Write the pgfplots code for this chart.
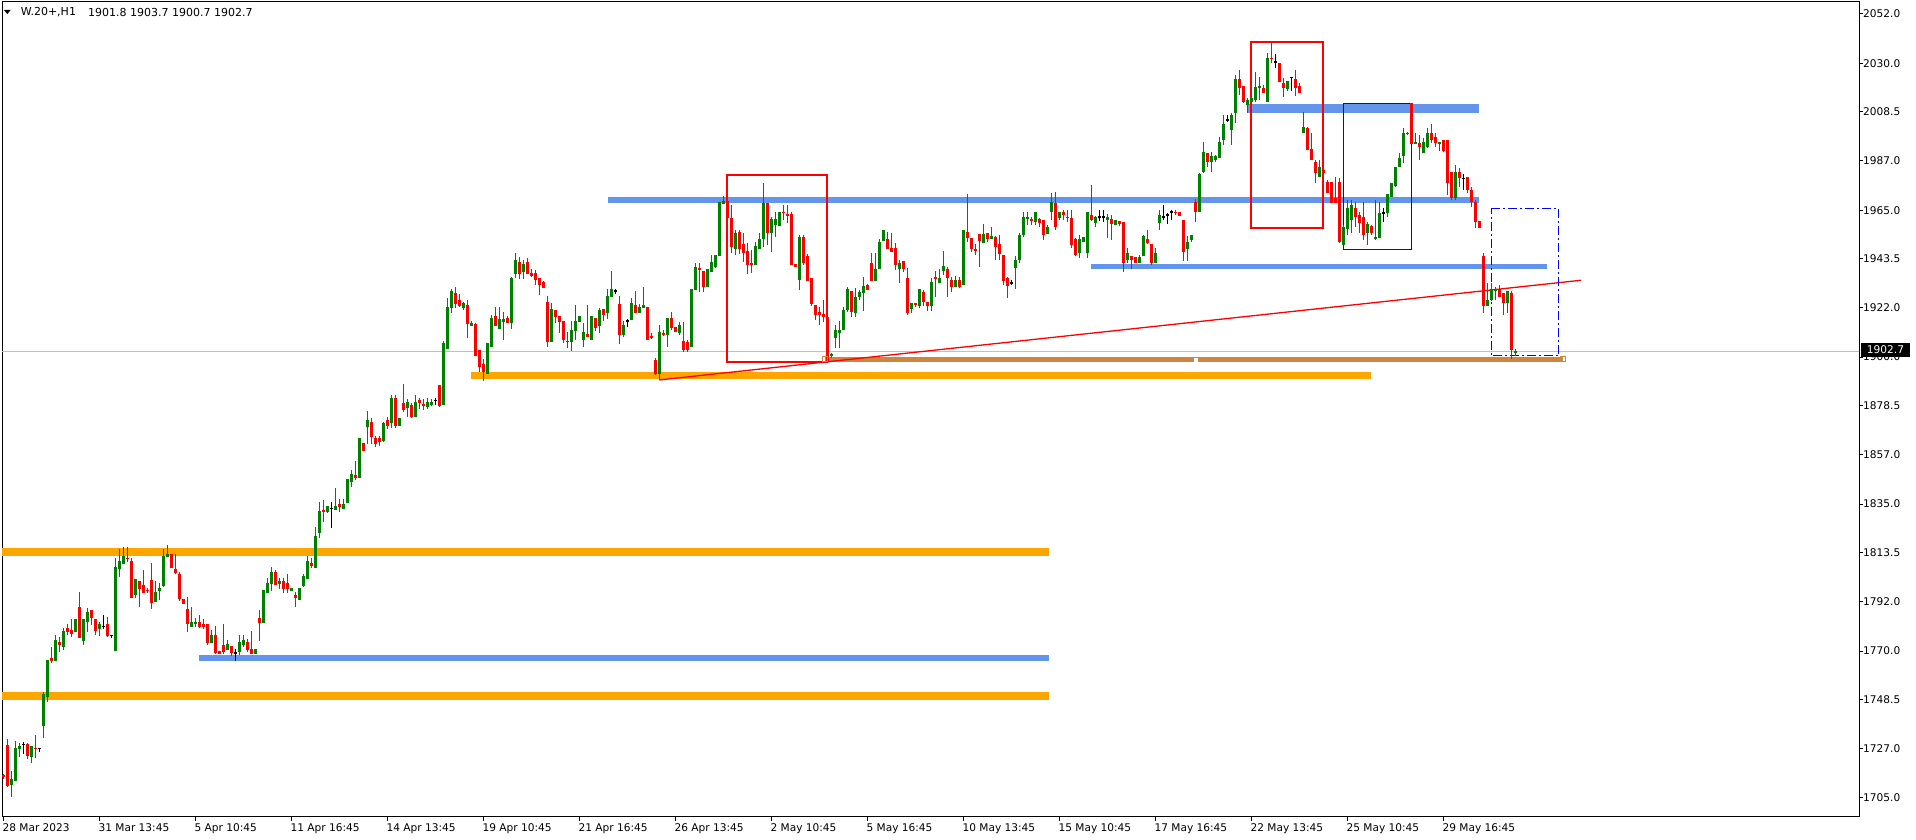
\documentclass[border=0pt]{standalone}
\usepackage{fontspec}
\setmainfont{DejaVu Sans}
\usepackage{pgfplots}
\usepackage{pgfplotstable}
\pgfplotsset{compat=1.18}

\definecolor{bull}{RGB}{0,128,0}
\definecolor{bear}{RGB}{255,0,0}
\definecolor{lvlorange}{RGB}{255,165,0}
\definecolor{lvlblue}{RGB}{100,149,237}
\definecolor{lvlbrown}{RGB}{205,133,63}
\definecolor{pricegrey}{RGB}{192,192,192}

% hourly bars: index o h l c
\pgfplotstableread{
i o h l c
0 1715.1 1715.8 1713.6 1714.4
1 1728.4 1730.9 1709.7 1710.4
2 1710.7 1716.9 1705.5 1713.6
3 1712.6 1730.2 1712.6 1727.2
4 1726.8 1729.4 1722.9 1727.9
5 1728.8 1729.9 1724.4 1728.8
6 1728.8 1729.4 1722.3 1723.7
7 1722.9 1727.9 1720.6 1727.9
8 1727.2 1732.7 1722.6 1726.9
9 1726.9 1726.9 1725.4 1726.9
10 1736.8 1752.0 1731.6 1750.9
11 1749.8 1766.0 1747.6 1766.0
12 1767.0 1771.9 1764.8 1765.5
13 1765.7 1777.0 1765.7 1774.8
14 1774.1 1776.3 1769.7 1772.6
15 1771.9 1780.0 1770.4 1778.8
16 1780.0 1781.9 1776.9 1778.5
17 1779.3 1784.1 1776.0 1777.5
18 1778.5 1784.1 1778.5 1784.1
19 1789.4 1796.1 1775.9 1775.9
20 1774.5 1784.1 1772.6 1784.1
21 1782.9 1789.0 1778.5 1787.2
22 1788.1 1788.1 1781.5 1784.7
23 1784.1 1784.1 1777.3 1779.0
24 1779.7 1782.9 1776.8 1782.1
25 1780.9 1785.9 1779.7 1780.9
26 1782.1 1785.2 1776.0 1776.8
27 1776.9 1776.9 1775.9 1776.9
28 1770.1 1811.0 1770.1 1807.1
29 1806.1 1815.1 1802.9 1809.8
30 1808.6 1815.8 1808.6 1812.0
31 1811.2 1815.8 1809.5 1810.7
32 1809.8 1811.0 1793.6 1793.6
33 1794.7 1801.8 1793.6 1801.8
34 1800.9 1800.9 1789.6 1797.5
35 1799.2 1805.8 1795.8 1795.8
36 1797.1 1798.1 1795.8 1796.8
37 1801.4 1808.9 1788.7 1791.1
38 1791.8 1800.9 1791.8 1796.1
39 1796.7 1800.1 1792.7 1798.0
40 1798.9 1815.1 1798.4 1812.0
41 1811.7 1816.9 1811.4 1812.9
42 1812.9 1812.9 1806.8 1806.8
43 1806.2 1812.9 1804.0 1804.6
44 1804.0 1805.1 1792.2 1792.8
45 1792.8 1792.8 1790.6 1790.6
46 1788.5 1794.0 1778.5 1781.8
47 1780.7 1789.6 1780.7 1782.9
48 1781.8 1784.4 1780.7 1782.8
49 1782.9 1785.9 1780.0 1780.7
50 1781.9 1784.1 1779.7 1780.7
51 1781.9 1781.9 1772.6 1773.7
52 1773.7 1779.3 1773.7 1777.0
53 1777.0 1781.2 1768.9 1768.9
54 1770.0 1770.0 1768.9 1768.9
55 1772.6 1781.9 1768.9 1769.7
56 1770.4 1774.8 1770.4 1773.1
57 1772.0 1772.0 1767.8 1768.9
58 1769.2 1770.9 1765.7 1769.2
59 1769.7 1777.0 1768.2 1774.0
60 1772.6 1777.0 1771.9 1774.8
61 1774.0 1775.3 1769.7 1770.4
62 1770.7 1778.8 1768.9 1768.9
63 1768.8 1770.9 1768.8 1770.9
64 1784.6 1788.1 1774.5 1782.5
65 1782.6 1797.0 1782.2 1797.0
66 1795.8 1802.1 1795.5 1799.9
67 1799.8 1807.0 1796.7 1804.9
68 1804.9 1805.8 1799.0 1799.0
69 1799.8 1802.1 1797.4 1800.9
70 1800.9 1802.1 1795.8 1797.4
71 1799.9 1804.0 1795.8 1797.4
72 1796.7 1797.8 1796.7 1797.8
73 1794.7 1796.1 1789.6 1793.6
74 1792.7 1798.0 1792.7 1798.0
75 1798.9 1804.0 1798.4 1803.1
76 1801.8 1812.0 1801.8 1809.9
77 1808.9 1811.0 1806.5 1807.6
78 1806.8 1824.8 1806.8 1820.8
79 1822.0 1835.9 1819.8 1831.9
80 1832.2 1836.8 1827.2 1831.6
81 1831.6 1834.1 1830.9 1834.1
82 1833.1 1836.0 1824.5 1833.1
83 1832.6 1842.2 1832.6 1834.1
84 1835.0 1837.1 1831.6 1833.5
85 1832.8 1837.1 1832.8 1835.0
86 1835.6 1846.2 1835.6 1846.2
87 1844.7 1850.0 1842.7 1848.3
88 1847.8 1854.2 1845.6 1846.4
89 1846.6 1864.1 1846.6 1864.1
90 1861.8 1861.8 1858.6 1858.6
91 1869.2 1876.1 1861.8 1872.2
92 1871.3 1872.9 1861.8 1864.8
93 1864.2 1865.2 1860.1 1861.8
94 1864.2 1865.2 1860.8 1862.4
95 1863.0 1871.4 1862.6 1871.0
96 1872.2 1873.6 1868.0 1869.7
97 1870.7 1883.2 1868.8 1882.0
98 1882.0 1883.2 1868.8 1869.5
99 1869.7 1872.9 1869.7 1872.9
100 1879.7 1888.1 1875.9 1876.6
101 1877.6 1881.3 1873.6 1880.1
102 1878.9 1879.5 1872.9 1873.6
103 1873.6 1883.2 1873.6 1880.1
104 1881.0 1881.7 1877.0 1879.8
105 1879.2 1881.7 1876.6 1878.4
106 1877.8 1882.0 1876.9 1880.1
107 1878.8 1881.7 1878.4 1880.3
108 1881.0 1882.0 1878.8 1881.0
109 1887.6 1887.6 1878.1 1878.5
110 1878.9 1907.1 1878.9 1906.1
111 1903.7 1926.0 1903.7 1922.0
112 1921.9 1930.1 1919.6 1929.2
113 1928.3 1930.9 1921.6 1923.5
114 1925.2 1927.9 1922.3 1922.6
115 1921.9 1924.5 1920.8 1923.8
116 1923.0 1925.2 1908.6 1914.8
117 1913.8 1916.0 1913.8 1914.9
118 1914.5 1914.9 1900.6 1900.6
119 1903.1 1903.1 1893.6 1895.8
120 1896.9 1899.4 1889.6 1893.6
121 1892.5 1906.1 1892.5 1906.1
122 1904.6 1918.5 1904.6 1917.3
123 1918.2 1922.0 1913.9 1913.9
124 1912.4 1922.0 1912.4 1916.9
125 1915.5 1920.1 1907.6 1916.9
126 1917.3 1918.2 1914.9 1914.9
127 1915.2 1935.6 1912.4 1935.1
128 1936.6 1945.9 1935.1 1942.9
129 1941.9 1944.1 1934.5 1936.8
130 1937.8 1942.9 1934.5 1941.3
131 1942.1 1944.0 1936.9 1936.9
132 1937.3 1939.0 1935.6 1935.9
133 1937.3 1938.5 1931.9 1934.1
134 1935.1 1935.1 1927.5 1931.9
135 1933.4 1933.8 1930.7 1930.7
136 1924.5 1927.0 1904.6 1906.8
137 1906.8 1924.1 1906.8 1921.3
138 1920.8 1920.8 1914.9 1917.9
139 1918.2 1918.2 1910.8 1915.5
140 1916.1 1916.1 1906.1 1907.6
141 1907.3 1911.2 1903.9 1906.9
142 1906.8 1916.0 1902.8 1912.0
143 1911.5 1923.0 1907.6 1916.0
144 1915.7 1918.2 1915.7 1918.2
145 1907.6 1914.9 1904.6 1911.1
146 1910.2 1923.0 1908.7 1908.7
147 1907.6 1918.2 1907.6 1918.2
148 1917.3 1917.3 1911.7 1913.0
149 1913.9 1921.6 1910.8 1920.8
150 1921.3 1921.3 1916.1 1918.6
151 1919.6 1930.0 1916.7 1927.0
152 1926.7 1938.2 1926.7 1930.1
153 1929.4 1930.1 1927.9 1929.4
154 1923.5 1927.0 1905.8 1909.8
155 1909.8 1916.1 1909.0 1914.2
156 1916.1 1916.7 1913.2 1916.1
157 1916.4 1926.0 1916.4 1923.8
158 1923.0 1929.2 1919.6 1919.6
159 1919.6 1923.3 1919.6 1922.3
160 1921.9 1930.9 1921.9 1923.0
161 1922.1 1922.1 1907.6 1907.6
162 1909.3 1910.5 1907.8 1908.3
163 1898.7 1899.5 1892.0 1892.5
164 1892.5 1914.2 1889.9 1911.2
165 1910.8 1912.0 1909.3 1909.8
166 1909.8 1917.1 1904.6 1917.1
167 1917.1 1919.8 1912.0 1912.7
168 1913.5 1913.5 1911.2 1911.2
169 1910.8 1915.7 1909.8 1914.2
170 1907.0 1915.7 1902.4 1903.1
171 1906.8 1907.6 1902.4 1903.1
172 1904.6 1930.1 1904.6 1930.1
173 1929.7 1941.5 1929.7 1940.0
174 1939.3 1941.5 1928.9 1938.8
175 1938.2 1938.2 1928.9 1931.1
176 1930.9 1938.8 1930.9 1938.8
177 1937.8 1945.2 1937.8 1942.2
178 1939.7 1945.2 1939.3 1945.2
179 1944.7 1968.8 1944.7 1968.8
180 1967.7 1971.3 1967.7 1969.2
181 1969.2 1969.5 1961.0 1961.4
182 1961.4 1967.3 1945.9 1948.8
183 1947.8 1956.2 1945.2 1954.7
184 1955.5 1956.2 1945.6 1947.8
185 1950.0 1954.7 1942.2 1945.9
186 1946.9 1950.3 1936.7 1940.7
187 1941.5 1947.4 1937.0 1941.0
188 1940.7 1951.0 1940.7 1949.1
189 1947.8 1954.7 1947.8 1952.1
190 1952.1 1977.2 1948.8 1968.0
191 1968.0 1968.0 1949.6 1954.7
192 1954.7 1962.1 1946.6 1961.1
193 1958.4 1964.3 1953.3 1961.1
194 1958.0 1964.0 1958.0 1964.0
195 1964.3 1967.3 1960.6 1963.7
196 1963.4 1967.3 1959.2 1962.8
197 1963.3 1964.3 1940.7 1940.7
198 1941.2 1941.2 1939.7 1939.7
199 1934.1 1954.0 1929.7 1953.3
200 1953.3 1954.0 1940.7 1941.8
201 1944.7 1945.6 1933.8 1933.8
202 1935.1 1935.1 1922.6 1923.3
203 1923.0 1923.0 1916.4 1918.6
204 1920.1 1922.3 1914.2 1918.6
205 1919.2 1925.3 1915.7 1917.9
206 1917.9 1917.9 1897.2 1898.0
207 1900.5 1902.0 1899.5 1901.6
208 1908.6 1914.2 1903.9 1912.0
209 1910.8 1916.0 1903.9 1912.0
210 1912.0 1922.3 1912.0 1920.8
211 1920.8 1931.1 1920.1 1930.1
212 1929.4 1929.4 1917.9 1920.1
213 1919.6 1930.4 1917.9 1926.4
214 1926.7 1929.7 1925.3 1928.9
215 1928.2 1935.6 1920.5 1931.4
216 1931.9 1932.5 1929.7 1929.7
217 1941.8 1945.9 1933.8 1933.8
218 1933.8 1945.9 1933.8 1939.0
219 1939.0 1952.1 1939.0 1950.8
220 1951.5 1956.2 1951.5 1956.2
221 1952.2 1955.5 1947.7 1947.7
222 1948.5 1954.7 1946.6 1946.6
223 1948.1 1950.3 1938.5 1940.7
224 1938.8 1942.9 1932.9 1941.5
225 1942.5 1942.5 1937.8 1938.8
226 1935.1 1939.3 1918.6 1919.6
227 1921.1 1924.1 1919.4 1924.1
228 1923.8 1923.8 1922.3 1923.0
229 1922.6 1930.0 1921.6 1930.0
230 1928.9 1929.7 1922.6 1924.5
231 1924.5 1924.5 1920.5 1922.6
232 1922.6 1934.8 1920.5 1933.4
233 1935.3 1938.2 1926.7 1934.4
234 1932.9 1938.8 1932.9 1935.1
235 1938.2 1947.1 1936.3 1940.3
236 1939.1 1940.0 1926.7 1934.8
237 1934.1 1935.6 1928.9 1930.9
238 1930.9 1935.9 1930.9 1934.1
239 1934.1 1935.6 1930.4 1931.1
240 1931.9 1956.2 1931.9 1956.2
241 1955.5 1972.1 1951.0 1952.5
242 1952.5 1952.5 1946.6 1947.8
243 1947.6 1949.9 1945.2 1947.2
244 1954.4 1954.4 1939.7 1951.5
245 1950.3 1958.9 1950.3 1954.4
246 1954.7 1954.7 1951.0 1952.1
247 1952.1 1957.7 1952.1 1953.6
248 1953.0 1953.6 1942.9 1948.8
249 1949.9 1954.0 1942.9 1945.6
250 1945.2 1945.2 1931.9 1933.8
251 1934.8 1935.6 1926.0 1931.4
252 1932.9 1934.1 1931.9 1932.9
253 1939.3 1944.7 1930.0 1942.9
254 1942.9 1954.7 1941.8 1954.0
255 1954.0 1964.0 1953.3 1962.1
256 1960.9 1964.3 1958.4 1962.1
257 1961.1 1962.1 1958.4 1960.2
258 1959.9 1964.3 1958.4 1964.3
259 1960.9 1961.4 1957.7 1959.5
260 1960.6 1960.6 1951.8 1954.0
261 1954.4 1958.4 1954.4 1957.4
262 1964.3 1972.4 1960.6 1968.8
263 1968.3 1973.2 1956.2 1957.4
264 1961.4 1964.3 1960.6 1964.3
265 1964.3 1965.1 1960.6 1962.9
266 1962.0 1965.1 1959.9 1961.6
267 1961.4 1965.1 1948.5 1949.6
268 1952.1 1952.5 1944.7 1945.2
269 1945.9 1954.0 1943.7 1952.1
270 1951.0 1953.3 1951.0 1953.3
271 1945.9 1964.3 1943.7 1964.3
272 1962.9 1976.1 1960.4 1960.6
273 1959.5 1962.4 1957.4 1962.1
274 1962.1 1965.1 1960.4 1962.1
275 1962.1 1965.1 1959.9 1962.1
276 1960.6 1963.1 1952.5 1962.1
277 1961.1 1962.9 1951.8 1958.7
278 1958.4 1960.6 1958.4 1960.6
279 1960.2 1960.2 1958.0 1958.9
280 1959.9 1959.9 1937.8 1941.5
281 1942.9 1948.1 1941.5 1945.9
282 1944.7 1944.7 1938.8 1942.9
283 1944.1 1944.1 1941.8 1941.8
284 1941.8 1945.2 1941.5 1944.4
285 1944.7 1954.0 1944.7 1953.6
286 1952.1 1956.2 1950.0 1950.6
287 1950.0 1950.0 1940.7 1941.5
288 1941.8 1948.1 1941.8 1946.2
289 1959.5 1965.1 1956.2 1962.9
290 1962.1 1967.3 1960.6 1962.1
291 1962.9 1963.6 1958.9 1962.9
292 1964.3 1965.1 1960.6 1964.3
293 1964.2 1965.1 1962.9 1963.8
294 1964.0 1964.3 1962.4 1962.4
295 1960.6 1960.6 1942.6 1946.6
296 1947.7 1953.6 1942.6 1951.0
297 1951.8 1953.9 1951.0 1953.9
298 1968.8 1969.8 1959.9 1964.3
299 1964.3 1981.6 1964.3 1981.0
300 1982.0 1995.3 1981.3 1990.9
301 1990.1 1990.1 1984.2 1986.4
302 1986.4 1990.9 1982.0 1988.9
303 1987.2 1989.4 1986.4 1988.9
304 1987.9 1997.2 1987.9 1995.3
305 1996.0 2007.1 1993.8 2003.1
306 2004.9 2007.1 2004.2 2004.9
307 2000.5 2007.8 1993.8 2007.1
308 2007.8 2024.8 2003.4 2022.9
309 2022.9 2027.0 2015.9 2018.9
310 2019.9 2019.9 2012.3 2013.0
311 2011.5 2014.5 2007.8 2013.7
312 2013.0 2015.9 2012.3 2014.5
313 2013.7 2026.3 2013.0 2019.6
314 2018.9 2024.0 2013.7 2019.9
315 2018.9 2020.4 2017.0 2017.0
316 2013.0 2034.4 2013.0 2032.2
317 2032.4 2039.5 2029.9 2032.0
318 2030.7 2033.9 2027.7 2030.7
319 2029.9 2029.9 2021.8 2021.8
320 2021.4 2023.7 2014.9 2018.9
321 2018.4 2022.3 2017.9 2022.3
322 2023.7 2023.7 2017.9 2023.7
323 2022.9 2027.0 2015.5 2018.9
324 2019.9 2021.4 2017.0 2017.0
325 1999.3 2008.6 1999.3 2001.9
326 2001.2 2001.9 1991.6 1991.6
327 1991.9 1999.0 1987.2 1987.2
328 1986.4 1987.2 1976.9 1981.6
329 1979.8 1987.2 1979.8 1984.2
330 1982.8 1982.8 1979.8 1981.3
331 1977.6 1978.3 1972.7 1972.7
332 1977.6 1977.6 1968.0 1968.3
333 1970.2 1979.8 1968.0 1968.3
334 1977.3 1979.1 1950.6 1951.1
335 1949.6 1958.4 1949.6 1957.7
336 1956.5 1969.5 1954.0 1965.8
337 1960.6 1969.5 1954.7 1967.3
338 1965.8 1968.7 1957.7 1961.8
339 1962.9 1964.3 1954.7 1959.2
340 1962.1 1968.7 1951.8 1954.0
341 1954.7 1959.9 1949.6 1958.9
342 1958.0 1958.4 1954.0 1954.7
343 1952.1 1969.5 1951.8 1953.0
344 1952.5 1968.7 1952.5 1963.9
345 1963.9 1965.8 1959.9 1963.9
346 1963.6 1972.1 1962.1 1972.1
347 1970.9 1976.9 1970.9 1976.9
348 1975.7 1984.2 1975.4 1984.2
349 1984.2 1990.1 1984.2 1987.9
350 1989.0 2001.2 1985.7 1999.0
351 1999.2 1999.7 1998.2 1998.8
352 2012.3 2012.3 1994.3 1994.3
353 1994.7 1999.0 1994.6 1995.0
354 1994.6 1998.2 1987.2 1993.1
355 1990.1 1996.8 1990.1 1995.3
356 1993.1 2001.2 1992.3 1999.0
357 1999.0 2003.1 1994.6 1996.0
358 1997.5 1999.0 1993.1 1994.6
359 1994.3 1995.3 1991.3 1995.3
360 1996.0 1996.0 1990.9 1991.3
361 1996.0 1996.0 1971.7 1976.9
362 1982.0 1982.0 1969.5 1970.2
363 1970.2 1985.0 1969.5 1982.0
364 1982.0 1983.5 1975.4 1979.1
365 1979.1 1981.0 1973.9 1979.1
366 1979.8 1979.8 1972.4 1973.9
367 1973.9 1975.4 1966.5 1968.7
368 1968.7 1969.5 1957.0 1959.9
369 1960.2 1960.2 1957.0 1957.0
370 1944.7 1945.9 1919.6 1922.6
371 1922.6 1932.6 1922.6 1925.2
372 1925.2 1932.6 1924.9 1930.0
373 1929.4 1931.1 1925.2 1929.7
374 1930.0 1931.9 1926.7 1926.7
375 1928.2 1928.2 1918.6 1923.8
376 1923.8 1929.4 1919.3 1929.4
377 1928.5 1929.4 1899.0 1903.1
378 1901.8 1903.7 1900.7 1902.7
}\ohlc

\tikzset{bodyfont/.style={font=\fontsize{10.6bp}{12bp}\selectfont}}
\pgfplotsset{
  candle/.style n args={2}{draw=none, forget plot,
    error bars/y dir=both, error bars/y explicit, error bars/error mark=none,
    error bars/error bar style={draw=#1, line width=#2, solid}},
}

\begin{document}
\begin{tikzpicture}
\path[use as bounding box] (0,0) rectangle (1916bp,840bp);
\begin{axis}[
  at={(2bp,23.3bp)}, anchor=south west, scale only axis,
  width=1857bp, height=814.7bp,
  xmin=-0.33, xmax=463.92, ymin=1696.7, ymax=2057.1,
  axis line style={line width=1bp},
  tick style={black, line width=1bp},
  tick align=outside, major tick length=4bp,
  xtick pos=bottom, ytick pos=right, yticklabel pos=right,
  xtick={0,24,...,360},
  xticklabels={28 Mar 2023, 31 Mar 13:45, 5 Apr 10:45, 11 Apr 16:45, 14 Apr 13:45,
    19 Apr 10:45, 21 Apr 16:45, 26 Apr 13:45, 2 May 10:45, 5 May 16:45,
    10 May 13:45, 15 May 10:45, 17 May 16:45, 22 May 13:45, 25 May 10:45, 29 May 16:45},
  ytick={1705,1727,1748.5,1770,1792,1813.5,1835,1857,1878.5,1900,1922,1943.5,1965,1987,2008.5,2030,2052},
  yticklabels={1705.0,1727.0,1748.5,1770.0,1792.0,1813.5,1835.0,1857.0,1878.5,1900.0,
    1922.0,1943.5,1965.0,1987.0,2008.5,2030.0,2052.0},
  tick label style={bodyfont, inner sep=0pt},
  xticklabel style={anchor=north west, xshift=-1bp, yshift=-2.5bp},
  yticklabel style={anchor=west},
]
% drawn levels
\addplot[lvlorange, line width=8bp] coordinates {(-2,1813.8) (261.3,1813.8)};
\addplot[lvlorange, line width=8bp] coordinates {(-2,1750.0) (261.3,1750.0)};
\addplot[lvlblue, line width=6bp] coordinates {(49.0,1767.0) (261.3,1767.0)};
\addplot[lvlorange, line width=7bp] coordinates {(116.9,1891.9) (341.9,1891.9)};
\addplot[lvlblue, line width=5.5bp] coordinates {(151.2,1969.5) (368.9,1969.5)};
\addplot[lvlblue, line width=5.5bp] coordinates {(271.9,1940.0) (385.9,1940.0)};
\addplot[lvlblue, line width=9bp] coordinates {(311.1,2010.2) (368.9,2010.2)};
\addplot[pricegrey, line width=1bp] coordinates {(-2,1902.7) (470,1902.7)};
\addplot[lvlbrown, line width=5bp] coordinates {(205.4,1899.0) (390.0,1899.0)};
\addplot[only marks, mark=square, mark size=2.5bp, lvlbrown, mark options={line width=0.8bp}]
  coordinates {(205.4,1899.0) (390.0,1899.0)};
\addplot[only marks, mark=square*, mark size=1.5bp, white] coordinates {(298.0,1899.0)};
\addplot[bear, line width=1.3bp] coordinates {(164.0,1889.9) (394.4,1934.0)};
\addplot[bear, line width=2bp] coordinates {(180.9,1980.7) (206.0,1980.7) (206.0,1898.0) (180.9,1898.0)} --cycle;
\addplot[bear, line width=2bp] coordinates {(311.9,2039.4) (329.9,2039.4) (329.9,1957.2) (311.9,1957.2)} --cycle;
\addplot[blue, line width=1bp] coordinates {(335.0,2012.3) (352.1,2012.3) (352.1,1947.4) (335.0,1947.4)} --cycle;
\addplot[blue, line width=1bp, dash pattern=on 9bp off 3bp on 2bp off 3bp]
  coordinates {(372.0,1965.8) (388.9,1965.8) (388.9,1900.5) (372.0,1900.5)} --cycle;

% candles: wicks then bodies, bull / bear / doji
\addplot[candle={bull}{1bp}, restrict expr to domain={\thisrow{c}-\thisrow{o}}{0.001:9999}]
  table[x=i, y expr={(\thisrow{h}+\thisrow{l})/2}, y error expr={(\thisrow{h}-\thisrow{l})/2}] {\ohlc};
\addplot[candle={bull}{3bp}, restrict expr to domain={\thisrow{c}-\thisrow{o}}{0.001:9999}]
  table[x=i, y expr={(\thisrow{o}+\thisrow{c})/2}, y error expr={max(abs(\thisrow{c}-\thisrow{o})/2,0.25)}] {\ohlc};
\addplot[candle={bear}{1bp}, restrict expr to domain={\thisrow{c}-\thisrow{o}}{-9999:-0.001}]
  table[x=i, y expr={(\thisrow{h}+\thisrow{l})/2}, y error expr={(\thisrow{h}-\thisrow{l})/2}] {\ohlc};
\addplot[candle={bear}{3bp}, restrict expr to domain={\thisrow{c}-\thisrow{o}}{-9999:-0.001}]
  table[x=i, y expr={(\thisrow{o}+\thisrow{c})/2}, y error expr={max(abs(\thisrow{c}-\thisrow{o})/2,0.25)}] {\ohlc};
\addplot[candle={black}{1bp}, restrict expr to domain={\thisrow{c}-\thisrow{o}}{-0.001:0.001}]
  table[x=i, y expr={(\thisrow{h}+\thisrow{l})/2}, y error expr={(\thisrow{h}-\thisrow{l})/2}] {\ohlc};
\addplot[candle={black}{3bp}, restrict expr to domain={\thisrow{c}-\thisrow{o}}{-0.001:0.001}]
  table[x=i, y expr={\thisrow{c}}, y error expr={0.25}] {\ohlc};
\end{axis}
% header and current price tag
\fill (4bp,830bp) -- (10.7bp,830bp) -- (7.35bp,826bp) -- cycle;
\node[anchor=west, inner sep=0pt, font=\fontsize{11bp}{13bp}\selectfont] at (20.7bp,827.5bp) {W.20+,H1};
\node[anchor=west, inner sep=0pt, font=\fontsize{11bp}{13bp}\selectfont] at (88bp,827.5bp)
  {1901.8 1903.7 1900.7 1902.7};
\node[fill=black, text=white, anchor=west, minimum width=49.5bp, minimum height=14bp,
  inner sep=0pt, bodyfont] at (1860.5bp,490.3bp) {1902.7};
\end{tikzpicture}
\end{document}
